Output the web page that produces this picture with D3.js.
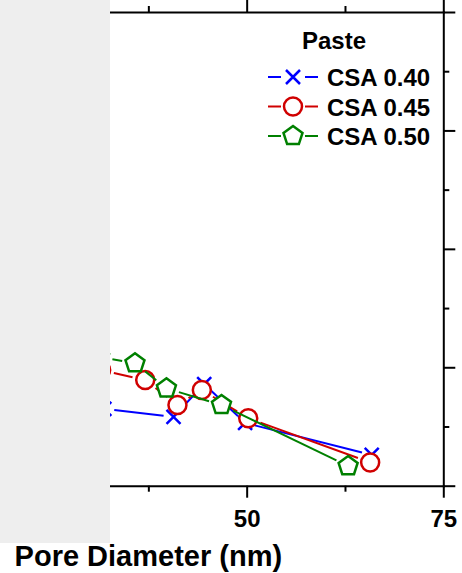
<!DOCTYPE html>
<html>
<head>
<meta charset="utf-8">
<script src="https://cdn.jsdelivr.net/npm/d3@7"></script>
<style>
  body { margin: 0; background: #fff; }
  svg { display: block; font-family: "Liberation Sans", Arial, sans-serif; font-weight: bold; }
</style>
</head>
<body>
<div id="chart"></div>
<script>
// --- Data ---
const seriesNames = ["CSA 0.40", "CSA 0.45", "CSA 0.50"];
const legendTitle = "Paste";
const xLabel = "Pore Diameter (nm)";
const xMajorTicks = [0, 25, 50, 75];
const xTickLabels = ["", "25", "50", "75"]; // "0" falls outside the window
const yMajorTicks = [0, 0.05, 0.1, 0.15, 0.2];

const csa040X = [31.9, 40.7, 44.6, 49.8, 65.9];
const csa040Y = [0.0324, 0.0291, 0.0429, 0.0265, 0.0130];
const csa045X = [31.5, 37.1, 41.2, 44.3, 50.2, 65.7];
const csa045Y = [0.0488, 0.0446, 0.0341, 0.0404, 0.0285, 0.0098];
const csa050X = [31.3, 35.8, 39.8, 46.8, 62.9];
const csa050Y = [0.0543, 0.0517, 0.0411, 0.0341, 0.0083];

const W = 462, H = 573;
const colors = ["#0000ff", "#d00000", "#008000"];
const shapes = ["cross", "circle", "pentagon"];

const series = [
    { name: seriesNames[0], x: csa040X, y: csa040Y },
    { name: seriesNames[1], x: csa045X, y: csa045Y },
    { name: seriesNames[2], x: csa050X, y: csa050Y }
].map((s, i) => ({
    ...s,
    color: colors[i],
    shape: shapes[i],
    points: s.x.map((v, j) => ({ x: v, y: s.y[j] }))
}));

// plot frame: the left part of the chart sits outside the window
const x = d3.scaleLinear().domain([0, 75]).range([-146.6, 443.3]);
const y = d3.scaleLinear().domain([0, 0.2]).range([485.7, 12]);

const svg = d3.select("#chart").append("svg")
    .attr("width", W)
    .attr("height", H)
    .attr("viewBox", [0, 0, W, H]);

// --- Marker shapes ---
function markerPath(shape) {
    if (shape === "cross") return "M-7,-7L7,7M-7,7L7,-7";
    if (shape === "circle") return d3.arc()({ innerRadius: 0, outerRadius: 9, startAngle: 0, endAngle: 2 * Math.PI });
    const R = 10;
    const pts = d3.range(5).map(k => {
        const a = -Math.PI / 2 + k * 2 * Math.PI / 5;
        return [R * Math.cos(a), R * Math.sin(a)];
    });
    return "M" + pts.join("L") + "Z";
}
const gapBy = { cross: 10, circle: 13, pentagon: 13 };

// --- Series: lines with gaps at symbols, then symbols ---
series.forEach(s => {
    const g = svg.append("g");
    const segs = d3.pairs(s.points).map(([a, b]) => {
        const x1 = x(a.x), y1 = y(a.y), x2 = x(b.x), y2 = y(b.y);
        const len = Math.hypot(x2 - x1, y2 - y1);
        const gap = gapBy[s.shape];
        const ux = (x2 - x1) / len, uy = (y2 - y1) / len;
        return { x1: x1 + ux * gap, y1: y1 + uy * gap, x2: x2 - ux * gap, y2: y2 - uy * gap, ok: len > 2 * gap };
    }).filter(d => d.ok);

    g.selectAll("line")
        .data(segs)
        .join("line")
        .attr("x1", d => d.x1).attr("y1", d => d.y1)
        .attr("x2", d => d.x2).attr("y2", d => d.y2)
        .attr("stroke", s.color)
        .attr("stroke-width", 2);

    g.selectAll("path")
        .data(s.points)
        .join("path")
        .attr("transform", d => `translate(${x(d.x)},${y(d.y)})`)
        .attr("d", markerPath(s.shape))
        .attr("fill", s.shape === "cross" ? "none" : "#fff")
        .attr("stroke", s.color)
        .attr("stroke-width", 2.5);
});

// --- Axes (ticks outward, majors 12px, minors 6px) ---
const xMinor = d3.range(12.5, 75, 25);
const yMinor = d3.range(0.025, 0.2, 0.05);

function styleAxis(sel) {
    sel.selectAll(".domain").attr("stroke", "#000").attr("stroke-width", 2).attr("stroke-linecap", "square");
    sel.selectAll(".tick line").attr("stroke", "#000").attr("stroke-width", 2);
}

// bottom
const gb = svg.append("g").attr("transform", `translate(0,${y(0)})`)
    .call(d3.axisBottom(x).tickValues(xMajorTicks).tickSize(12).tickSizeOuter(0).tickPadding(12)
        .tickFormat((d, i) => xTickLabels[i]));
gb.selectAll(".tick text").attr("font-size", 24).attr("font-weight", "bold").attr("fill", "#000")
    .attr("font-family", "'Liberation Sans', Arial, sans-serif");
svg.append("g").attr("transform", `translate(0,${y(0)})`)
    .call(d3.axisBottom(x).tickValues(xMinor).tickSize(6).tickSizeOuter(0).tickFormat(""))
    .call(g => g.select(".domain").remove())
    .call(styleAxis);
styleAxis(gb);

// top
svg.append("g").attr("transform", `translate(0,${y(0.2)})`)
    .call(d3.axisTop(x).tickValues(xMajorTicks).tickSize(12).tickSizeOuter(0).tickFormat(""))
    .call(styleAxis);
svg.append("g").attr("transform", `translate(0,${y(0.2)})`)
    .call(d3.axisTop(x).tickValues(xMinor).tickSize(6).tickSizeOuter(0).tickFormat(""))
    .call(g => g.select(".domain").remove())
    .call(styleAxis);

// right
svg.append("g").attr("transform", `translate(${x(75)},0)`)
    .call(d3.axisRight(y).tickValues(yMajorTicks).tickSize(12).tickSizeOuter(0).tickFormat(""))
    .call(styleAxis);
svg.append("g").attr("transform", `translate(${x(75)},0)`)
    .call(d3.axisRight(y).tickValues(yMinor).tickSize(6).tickSizeOuter(0).tickFormat(""))
    .call(g => g.select(".domain").remove())
    .call(styleAxis);

// left (outside the window)
svg.append("g").attr("transform", `translate(${x(0)},0)`)
    .call(d3.axisLeft(y).tickValues(yMajorTicks).tickSize(12).tickSizeOuter(0).tickFormat(""))
    .call(styleAxis);

// --- Legend ---
const legend = svg.append("g");
legend.append("text")
    .attr("x", 334).attr("y", 49)
    .attr("text-anchor", "middle")
    .attr("font-size", 24)
    .text(legendTitle);

const rows = legend.selectAll("g.row")
    .data(series)
    .join("g")
    .attr("class", "row")
    .attr("transform", (d, i) => `translate(293,${77 + i * 29.5})`);

rows.selectAll("line")
    .data(d => [[-25, -12, d.color], [12, 25, d.color]])
    .join("line")
    .attr("x1", d => d[0]).attr("x2", d => d[1])
    .attr("stroke", d => d[2])
    .attr("stroke-width", 2);

rows.append("path")
    .attr("d", d => markerPath(d.shape))
    .attr("fill", d => d.shape === "cross" ? "none" : "#fff")
    .attr("stroke", d => d.color)
    .attr("stroke-width", 2.5);

rows.append("text")
    .attr("x", 34).attr("y", 9)
    .attr("font-size", 24)
    .text(d => d.name);

// --- Grey panel covering the left side ---
svg.append("rect")
    .attr("x", 0).attr("y", 0)
    .attr("width", 110).attr("height", 543)
    .attr("fill", "#eeeeee");

// --- Axis title ---
svg.append("text")
    .attr("x", (x(0) + x(75)) / 2)
    .attr("y", 566)
    .attr("text-anchor", "middle")
    .attr("font-size", 29)
    .text(xLabel);
</script>
</body>
</html>
